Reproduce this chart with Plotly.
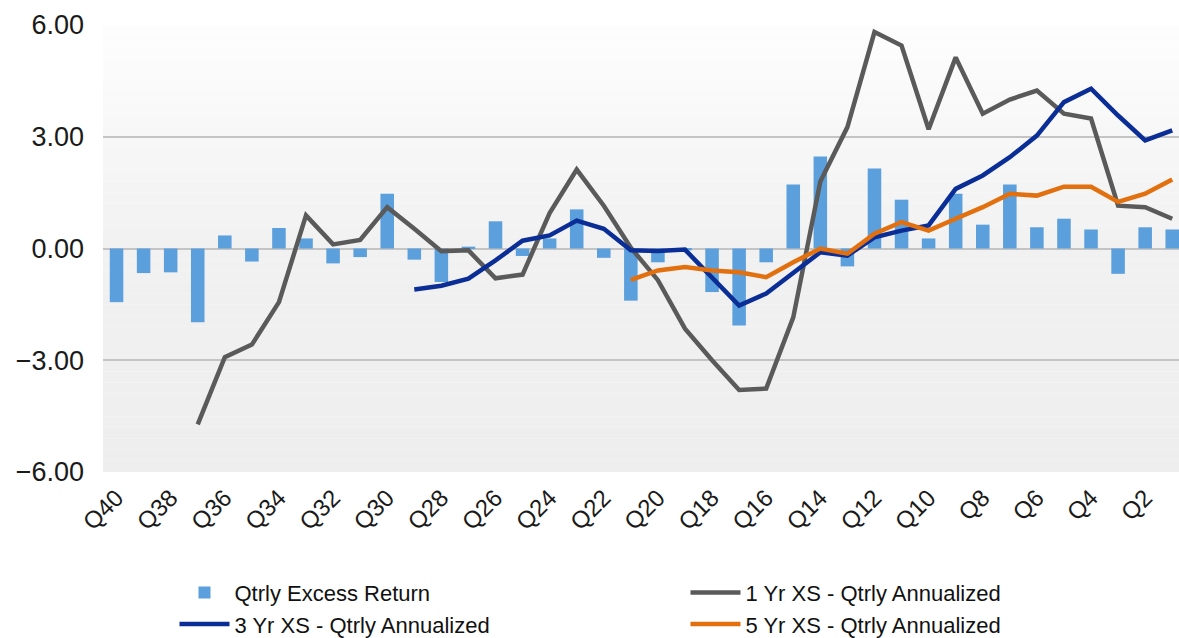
import plotly.graph_objects as go

categories = [f"Q{i}" for i in range(40, 0, -1)]
tick_labels = [f"Q{i}" for i in range(40, 0, -2)]

qtrly_excess = [-1.44, -0.66, -0.64, -1.98, 0.35, -0.35, 0.55, 0.27, -0.40, -0.23,
                1.47, -0.30, -0.90, 0.05, 0.73, -0.20, 0.27, 1.05, -0.25, -1.40,
                -0.37, -0.05, -1.17, -2.07, -0.37, 1.72, 2.47, -0.48, 2.15, 1.31,
                0.27, 1.47, 0.64, 1.72, 0.57, 0.80, 0.51, -0.68, 0.57, 0.51]

one_yr = [None, None, None, -4.72, -2.92, -2.58, -1.44, 0.89, 0.11, 0.23,
          1.11, 0.53, -0.07, -0.05, -0.80, -0.70, 0.95, 2.12, 1.15, 0.02,
          -0.85, -2.15, -3.00, -3.80, -3.76, -1.85, 1.80, 3.26, 5.81, 5.45,
          3.20, 5.13, 3.62, 4.00, 4.24, 3.62, 3.49, 1.15, 1.11, 0.80]

three_yr = [None] * 11 + [-1.10, -1.00, -0.81, -0.32, 0.21, 0.35, 0.75, 0.53, -0.05,
                          -0.07, -0.03, -0.77, -1.53, -1.21, -0.64, -0.10, -0.19, 0.30, 0.48,
                          0.62, 1.60, 1.96, 2.45, 3.03, 3.93, 4.29, 3.57, 2.90, 3.17]

five_yr = [None] * 19 + [-0.84, -0.59, -0.50, -0.59, -0.64, -0.77, -0.37, 0.00, -0.14, 0.40,
                         0.71, 0.48, 0.80, 1.11, 1.47, 1.42, 1.66, 1.66, 1.25, 1.47, 1.85]

y_ticks = [-6, -3, 0, 3, 6]

FONT = "Liberation Sans, Arial, sans-serif"

fig = go.Figure()
fig.add_trace(go.Bar(x=categories, y=qtrly_excess, name="Qtrly Excess Return",
                     marker=dict(color="#5B9FDC", line=dict(width=0)), width=0.5))
fig.add_trace(go.Scatter(x=categories, y=one_yr, name="1 Yr XS - Qtrly Annualized",
                         mode="lines", line=dict(color="#5A5A5A", width=4.5)))
fig.add_trace(go.Scatter(x=categories, y=three_yr, name="3 Yr XS - Qtrly Annualized",
                         mode="lines", line=dict(color="#0A2D96", width=4.5)))
fig.add_trace(go.Scatter(x=categories, y=five_yr, name="5 Yr XS - Qtrly Annualized",
                         mode="lines", line=dict(color="#E2700F", width=4.5)))

# subtle vertical gradient background
shapes = []
n = 40
def lerp(a, b, t):
    return int(round(a + (b - a) * t))
for k in range(n):
    y0 = 1 - (k + 1) / n
    y1 = 1 - k / n
    t = k / (n - 1)
    if t < 0.5:
        v = lerp(253, 241, t / 0.5)
    else:
        v = lerp(241, 238, (t - 0.5) / 0.5)
    shapes.append(dict(type="rect", xref="x domain", yref="y domain",
                       x0=0, x1=1, y0=y0, y1=y1, layer="below",
                       line=dict(width=0), fillcolor=f"rgb({v},{v},{v})"))

fig.update_layout(
    width=1179, height=638,
    margin=dict(l=103, r=0, t=25, b=166, autoexpand=False),
    paper_bgcolor="white", plot_bgcolor="white",
    font=dict(family=FONT, color="#1a1a1a", size=22),
    shapes=shapes,
    bargap=0.5,
    showlegend=True,
    legend=dict(orientation="h", xref="container", x=0.148, xanchor="left",
                yref="container", y=0.104, yanchor="top",
                entrywidth=446, entrywidthmode="pixels",
                font=dict(family=FONT, size=22, color="#111"),
                bgcolor="rgba(0,0,0,0)", tracegroupgap=0, itemwidth=50),
)
fig.update_xaxes(type="category", categoryorder="array", categoryarray=categories,
                 range=[-0.5, 39.25], tickmode="array", tickvals=tick_labels,
                 ticktext=tick_labels, tickangle=-45, showgrid=False,
                 showline=False, ticks="", tickfont=dict(size=24, color="#1a1a1a"),
                 ticklabelstandoff=6, automargin=False)
fig.update_yaxes(range=[-6, 6], tickmode="array", tickvals=y_ticks,
                 tickformat=".2f", showgrid=True, gridcolor="#C4C4C4", gridwidth=2,
                 zeroline=True, zerolinecolor="#C4C4C4", zerolinewidth=2,
                 showline=False, ticks="", tickfont=dict(size=27, color="#1a1a1a"),
                 ticklabelstandoff=18, automargin=False)

fig.write_html("out.html")
